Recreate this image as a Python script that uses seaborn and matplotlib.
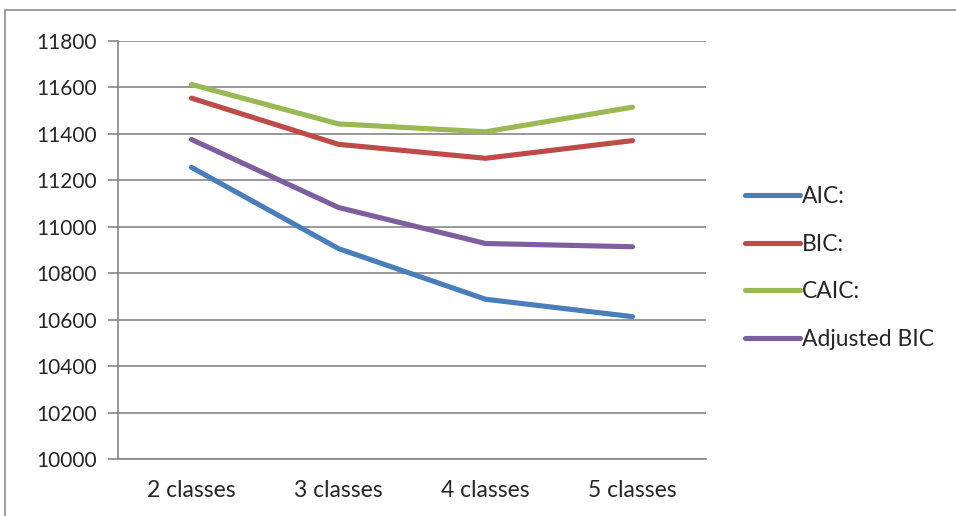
import pandas as pd
import numpy as np
import matplotlib
matplotlib.use("Agg")
import matplotlib.pyplot as plt
from matplotlib.patches import Rectangle
import seaborn as sns

classes = ["2 classes", "3 classes", "4 classes", "5 classes"]
aic = [11256, 10906, 10688, 10613]
bic = [11554, 11355, 11295, 11371]
caic = [11613, 11443, 11409, 11515]
adj_bic = [11376, 11083, 10928, 10914]
series = ["AIC:", "BIC:", "CAIC:", "Adjusted BIC"]

colores = {"AIC:": "#4A7EBB",
           "BIC:": "#BE4B48",
           "CAIC:": "#98B954",
           "Adjusted BIC": "#7D5FA0"}

df = pd.DataFrame({
    "clase": classes * 4,
    "valor": aic + bic + caic + adj_bic,
    "serie": np.repeat(series, len(classes)),
})

sns.set_style("white")
plt.rcParams["font.family"] = ["Lato", "DejaVu Sans"]

fig = plt.figure(figsize=(9.56, 5.16), dpi=100)
ax = fig.add_axes([118/956, 1-459/516, (706-118)/956, (459-41)/516])

sns.lineplot(data=df, x="clase", y="valor", hue="serie", hue_order=series,
             palette=colores, linewidth=3.7, sort=False, ax=ax,
             solid_capstyle="round")

gris = "#868686"
ax.set_xlim(-0.5, 3.5)
ax.set_ylim(10000, 11800)
ax.set_yticks(np.arange(10000, 11801, 200))
ax.set_xticks(range(4))
ax.set_xticklabels(classes)
ax.set_xticks(np.arange(-0.5, 3.6, 1), minor=True)
ax.tick_params(axis="x", which="major", length=0, pad=15, labelsize=16.5)
ax.tick_params(axis="x", which="minor", length=6, color=gris, width=1.2, direction="out")
ax.tick_params(axis="y", length=7, color=gris, width=1.2, pad=8, labelsize=15, left=True)
ax.grid(axis="y", color=gris, linewidth=1.2)
ax.set_axisbelow(True)
for s in ["top", "right"]:
    ax.spines[s].set_visible(False)
for s in ["left", "bottom"]:
    ax.spines[s].set_color(gris)
    ax.spines[s].set_linewidth(1.2)
ax.set_xlabel("")
ax.set_ylabel("")

ax.legend(loc="center left", bbox_to_anchor=(745/956, 1-268/516),
          bbox_transform=fig.transFigure, frameon=False, fontsize=16.5,
          handlelength=2.4, handletextpad=0.1, labelspacing=1.15,
          borderpad=0, borderaxespad=0)

fig.patches.append(Rectangle((5/956, -0.1), 1.2, 1-10/516+0.1, transform=fig.transFigure,
                             fill=False, edgecolor="#8c8c8c", linewidth=1.2))

fig.savefig("out.png", dpi=100)
